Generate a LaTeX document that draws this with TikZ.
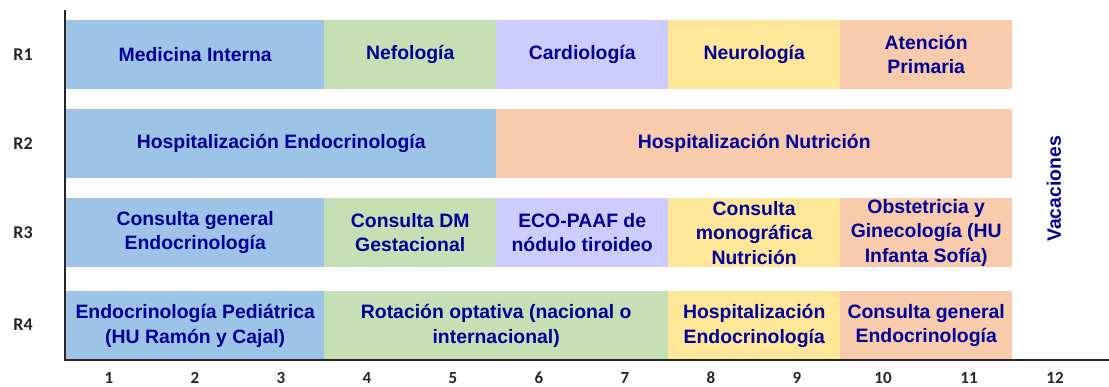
\documentclass[tikz,border=0pt]{standalone}
\usepackage{fontspec}
\setmainfont{Liberation Sans}
\newfontfamily\axisfont{Carlito}
\usepackage{tikz}
\usetikzlibrary{positioning}
\definecolor{barblue}{RGB}{157,195,230}
\definecolor{bargreen}{RGB}{197,224,180}
\definecolor{barlila}{RGB}{204,204,255}
\definecolor{baryellow}{RGB}{255,230,153}
\definecolor{barpeach}{RGB}{248,203,173}
\definecolor{textnavy}{RGB}{0,0,150}
\definecolor{axisgray}{RGB}{38,38,38}
\begin{document}
\begin{tikzpicture}[x=1pt,y=-1pt]
			\tikzset{bar/.style={rectangle,anchor=north west,inner sep=0pt,minimum height=69pt,align=center,text=textnavy,font=\fontsize{19.4}{24.5}\selectfont\bfseries}}
			\tikzset{axislabel/.style={text=axisgray,font=\axisfont\fontsize{18}{20}\selectfont\bfseries}}
			\useasboundingbox (0,0) rectangle (1109,387);
			% R1
			\node[bar,fill=barblue,minimum width=258pt] (meint) at (66,20) {Medicina Interna};
			\node[bar,fill=bargreen,minimum width=172pt] (nefro) at (324,20) {Nefología};
			\node[bar,fill=barlila,minimum width=172pt] (cardio) at (496,20) {Cardiología};
			\node[bar,fill=baryellow,minimum width=172pt] (neuro) at (668,20) {Neurología};
			\node[bar,fill=barpeach,minimum width=172pt] (aprim) at (840,20) {Atención\\Primaria};
			% R2
			\node[bar,fill=barblue,minimum width=430pt] (hospendo) at (66,109) {Hospitalización Endocrinología};
			\node[bar,fill=barpeach,minimum width=516pt] (hospnutri) at (496,109) {Hospitalización Nutrición};
			% R3
			\node[bar,fill=barblue,minimum width=258pt] (consgen) at (66,198) {Consulta general\\Endocrinología};
			\node[bar,fill=bargreen,minimum width=172pt] (consdm) at (324,198) {Consulta DM\\Gestacional};
			\node[bar,fill=barlila,minimum width=172pt] (eco) at (496,198) {ECO-PAAF de\\nódulo tiroideo};
			\node[bar,fill=baryellow,minimum width=172pt] (consmono) at (668,198) {Consulta\\monográfica\\Nutrición};
			\node[bar,fill=barpeach,minimum width=172pt] (obste) at (840,198) {Obstetricia y\\Ginecología (HU\\Infanta Sofía)};
			% R4
			\node[bar,fill=barblue,minimum width=258pt] (pedia) at (66,291) {Endocrinología Pediátrica\\(HU Ramón y Cajal)};
			\node[bar,fill=bargreen,minimum width=344pt] (optat) at (324,291) {Rotación optativa (nacional o\\internacional)};
			\node[bar,fill=baryellow,minimum width=172pt] (hospendob) at (668,291) {Hospitalización\\Endocrinología};
			\node[bar,fill=barpeach,minimum width=172pt] (consgenb) at (840,291) {Consulta general\\Endocrinología};
			\node[rotate=90,text=textnavy,font=\fontsize{19.4}{22}\selectfont\bfseries] (vaca) at (1054,189) {Vacaciones};
			% axes
			\coordinate (origin) at (65,360);
			\coordinate (ytop) at (65,10);
			\coordinate (xend) at (1109,360);
			\draw[axisgray,line width=2pt] (ytop) -- (origin) -- (xend);
			\foreach \r/\y in {1/55,2/144,3/233,4/325}
				\node[axislabel] (r\r) at (23,\y) {R\r};
			\foreach \m in {1,...,12}
				\node[axislabel,font=\axisfont\fontsize{17}{19}\selectfont\bfseries] (m\m) at ({66+86*(\m-0.5)},378) {\m};
		\end{tikzpicture}
\end{document}
